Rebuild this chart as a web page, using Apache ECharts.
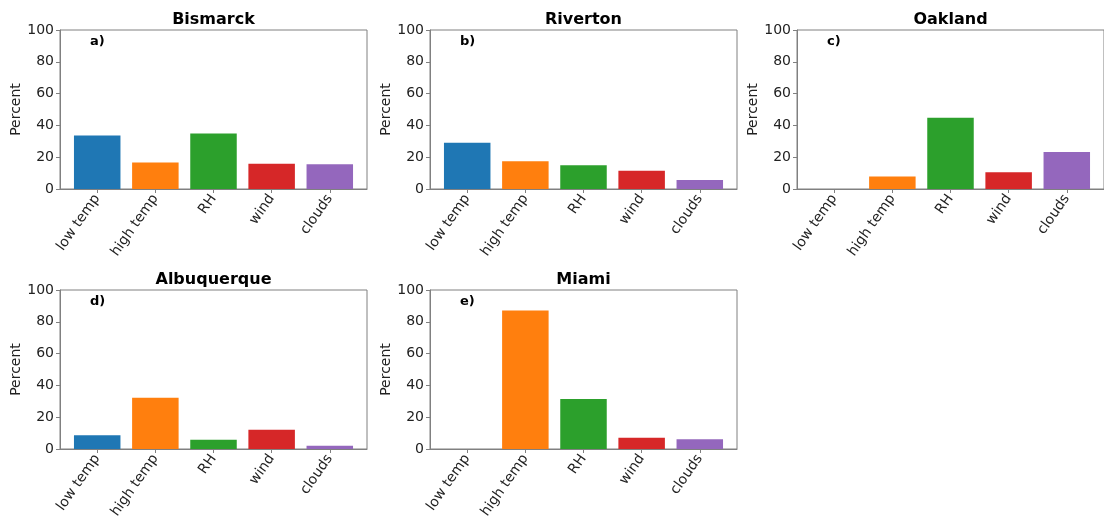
<!DOCTYPE html>
<html><head><meta charset="utf-8">
<script src="https://cdn.jsdelivr.net/npm/echarts@6/dist/echarts.min.js"></script>
<style>html,body{margin:0;padding:0;background:#fff}#c{width:1104px;height:525px}</style>
</head><body><div id="c"></div>
<script>
const categories = ['low temp', 'high temp', 'RH', 'wind', 'clouds'];
const stations = ['Bismarck', 'Riverton', 'Oakland', 'Albuquerque', 'Miami'];
const panelLetters = ['a)', 'b)', 'c)', 'd)', 'e)'];
const bismarck = [33.7, 16.7, 34.9, 15.9, 15.5];
const riverton = [29.1, 17.4, 14.9, 11.5, 5.6];
const oakland = [0, 7.9, 44.8, 10.5, 23.2];
const albuquerque = [8.7, 32.3, 5.8, 12.1, 2.1];
const miami = [0, 87.1, 31.5, 7.1, 6.2];
const yTicks = [0, 20, 40, 60, 80, 100];
const xTicks = [0, 1, 2, 3, 4];
const colors = ['#1f77b4', '#ff7f0e', '#2ca02c', '#d62728', '#9467bd'];

const allValues = [bismarck, riverton, oakland, albuquerque, miami];
const layout = [
  {left: 60, top: 30}, {left: 430, top: 30}, {left: 797, top: 30},
  {left: 60, top: 290}, {left: 430, top: 290}
];
const W = 307, H = 159;
const FONT = 'DejaVu Sans';
const frame = '#808080';
const txt = '#222';

const grid = [], xAxis = [], yAxis = [], series = [], title = [];
allValues.forEach((vals, i) => {
  const L = layout[i];
  grid.push({left: L.left, top: L.top, width: W, height: H, show: true,
    borderColor: frame, borderWidth: 1, backgroundColor: 'transparent', containLabel: false});
  xAxis.push({type: 'value', gridIndex: i, min: -0.64, max: 4.64,
    axisLine: {show: true, onZero: false, lineStyle: {color: frame}},
    axisTick: {show: true, length: 4, customValues: xTicks, lineStyle: {color: frame}},
    axisLabel: {show: true, customValues: xTicks, rotate: 55, margin: 7,
      fontFamily: FONT, fontSize: 14, color: txt,
      formatter: v => categories[Math.round(v)]},
    splitLine: {show: false}});
  yAxis.push({type: 'value', gridIndex: i, min: 0, max: 100, interval: 20,
    name: 'Percent', nameLocation: 'middle', nameGap: 36,
    nameTextStyle: {fontFamily: FONT, fontSize: 14, color: txt},
    axisLine: {show: true, onZero: false, lineStyle: {color: frame}},
    axisTick: {show: true, length: 4, lineStyle: {color: frame}},
    axisLabel: {margin: 6, fontFamily: FONT, fontSize: 14, color: txt},
    splitLine: {show: false}});
  series.push({type: 'bar', xAxisIndex: i, yAxisIndex: i, barWidth: 46.5,
    data: vals.map((v, k) => ({value: [k, v], itemStyle: {color: colors[k]}})),
    silent: true});
  title.push({text: stations[i], left: L.left + W / 2, textAlign: 'center',
    top: L.top - 18, padding: 0,
    textStyle: {fontFamily: FONT, fontSize: 16, fontWeight: 'bold', color: '#000'}});
  title.push({text: panelLetters[i], left: L.left + 30, top: L.top + 5, padding: 0,
    textStyle: {fontFamily: FONT, fontSize: 13, fontWeight: 'bold', color: '#000'}});
});

const chart = echarts.init(document.getElementById('c'), null, {renderer: 'canvas'});
chart.setOption({animation: false, backgroundColor: '#fff', title, grid, xAxis, yAxis, series});
</script></body></html>
